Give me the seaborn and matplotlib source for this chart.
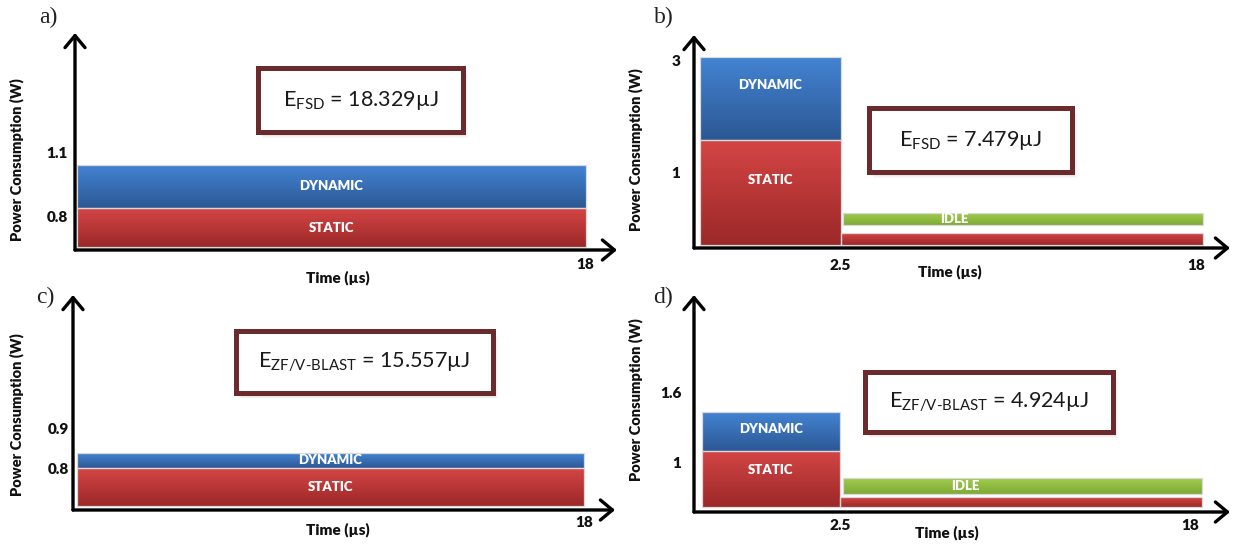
import numpy as np
import matplotlib
matplotlib.use("Agg")
import matplotlib.pyplot as plt
from matplotlib.patches import Rectangle
from matplotlib.colors import LinearSegmentedColormap
import seaborn as sns

sns.set_theme(style="white")
plt.rcParams["font.family"] = ["Lato", "DejaVu Sans"]
plt.rcParams["mathtext.fontset"] = "custom"
plt.rcParams["mathtext.rm"] = "Lato"
plt.rcParams["mathtext.it"] = "Lato:italic"
plt.rcParams["mathtext.bf"] = "Lato:bold"

FIG_W, FIG_H = 1258, 550

# ---- panels ----
panel_tags = ["a)", "b)", "c)", "d)"]
energy_texts = [r"$\mathregular{E_{FSD}}$ = 18.329µJ",
                r"$\mathregular{E_{FSD}}$ = 7.479µJ",
                r"$\mathregular{E_{ZF/V\text{-}BLAST}}$ = 15.557µJ",
                r"$\mathregular{E_{ZF/V\text{-}BLAST}}$ = 4.924µJ"]

# ---- schematic time axis (drawing units) ----
t_start = [2, 6, 4, 8]          # start of the frame
t_active = [511, 147, 511, 146]  # end of the active (detection) phase
t_idle = [np.nan, 149, np.nan, 149]
t_frame = [511, 509, 511, 508]   # end of the 18 us frame

# ---- schematic power levels (drawing units) ----
base_level = [3, 3, 4, 5]
static_level = [42, 108, 42, 61]
dynamic_level = [85, 191, 57, 100]
idle_static_level = [np.nan, 15, np.nan, 15]
idle_low = [np.nan, 23, np.nan, 18]
idle_high = [np.nan, 35, np.nan, 34]

# ---- axis ticks ----
ytick_pos = [[98, 33], [188, 76], [82, 42], [119, 49]]
ytick_labels = [["1.1", "0.8"], ["3", "1"], ["0.9", "0.8"], ["1.6", "1"]]
xtick_pos = [[510], [146, 502], [511], [146, 496]]
xtick_labels = [["18"], ["2.5", "18"], ["18"], ["2.5", "18"]]

# ---- layout (pixels) ----
origins = [(75, 250), (694, 248), (73, 510), (694, 512)]
axis_len = [(542, 217), (536, 213), (542, 215), (536, 217)]
ytick_pad = [5, 10, 3, 9]
xtick_pad = [6, 8, 4, 5]
boxes = [(183, 118, 205, 64), (175, 76, 203, 64), (163, 117, 257, 62), (171, 80, 248, 60)]
time_label_xy = [(263, -28), (256, -24), (265, -20), (253, -21)]
power_label_xy = [(-58, 90), (-58, 98), (-56, 95), (-58, 112)]
tag_xy = [(48, 17), (664, 17), (45, 297), (663, 297)]
dyn_label_frac = [0.5, 0.66, 0.5, 0.56]
static_label_frac = [0.5, 0.62, 0.5, 0.66]
idle_label_frac = [np.nan, 0.31, np.nan, 0.34]

shades = {"STATIC": ("#d44545", "#9c2828"),
          "DYNAMIC": ("#4383d2", "#2c5894"),
          "IDLE": ("#a0cc4e", "#7fa935")}
grad = np.linspace(0, 1, 128).reshape(-1, 1)


def shaded_bar(ax, left, right, bottom, top, kind, label=None, lx=0.5, ly=0.5):
    bars = ax.bar(left, top - bottom, width=right - left, bottom=bottom,
                  align="edge", color=shades[kind][1], linewidth=0, zorder=2)
    patch = bars.patches[0]
    cmap = LinearSegmentedColormap.from_list(kind, [shades[kind][1], shades[kind][0]])
    im = ax.imshow(grad, cmap=cmap, extent=(left, right, bottom, top), origin="lower",
                   aspect="auto", interpolation="bicubic", zorder=2.1)
    im.set_clip_path(patch)
    ax.bar(left, top - bottom, width=right - left, bottom=bottom, align="edge",
           fill=False, edgecolor="#d9d9d9", linewidth=0.9, zorder=2.2)
    if label:
        ax.text(left + lx * (right - left), bottom + ly * (top - bottom), label,
                color="white", fontsize=9.5, fontweight="heavy", ha="center", va="center",
                zorder=3)


fig = plt.figure(figsize=(FIG_W / 100, FIG_H / 100), dpi=100)
fig.patch.set_facecolor("white")

for i in range(4):
    ox, oy = origins[i]
    lx, ly = axis_len[i]
    ax = fig.add_axes([ox / FIG_W, (FIG_H - oy) / FIG_H, lx / FIG_W, ly / FIG_H])
    ax.set_frame_on(False)
    ax.set_facecolor("none")

    # active phase: static + dynamic stacked
    shaded_bar(ax, t_start[i], t_active[i], base_level[i], static_level[i], "STATIC",
               "STATIC", 0.5, static_label_frac[i])
    shaded_bar(ax, t_start[i], t_active[i], static_level[i], dynamic_level[i], "DYNAMIC",
               "DYNAMIC", 0.5, dyn_label_frac[i])
    # idle phase
    if not np.isnan(idle_static_level[i]):
        shaded_bar(ax, t_active[i], t_frame[i], base_level[i], idle_static_level[i], "STATIC")
        shaded_bar(ax, t_idle[i], t_frame[i], idle_low[i], idle_high[i], "IDLE",
                   "IDLE", idle_label_frac[i], 0.5)

    ax.set_xlim(0, lx)
    ax.set_ylim(0, ly)

    # axes drawn as arrows
    arrow = dict(arrowstyle="->,head_length=0.6,head_width=0.5", lw=2.4, color="black",
                 mutation_scale=14.4, shrinkA=0, shrinkB=0)
    ax.annotate("", xy=(0, ly), xytext=(0, 0), arrowprops=arrow, annotation_clip=False, zorder=4)
    ax.annotate("", xy=(lx, 0), xytext=(0, 0), arrowprops=arrow, annotation_clip=False, zorder=4)

    ax.set_yticks(ytick_pos[i])
    ax.set_yticklabels(ytick_labels[i], fontsize=11, fontweight="heavy", color="#111111")
    ax.set_xticks(xtick_pos[i])
    ax.set_xticklabels(xtick_labels[i], fontsize=11, fontweight="heavy", color="#111111")
    ax.tick_params(axis="y", length=0, pad=ytick_pad[i])
    ax.tick_params(axis="x", length=0, pad=xtick_pad[i])
    ax.grid(False)

    tx, ty = time_label_xy[i]
    ax.text(tx, ty, "Time (µs)", fontsize=11, fontweight="heavy", ha="center", va="center",
            color="#111111", clip_on=False)
    px, py = power_label_xy[i]
    ax.text(px, py, "Power Consumption (W)", fontsize=10.5, fontweight="heavy", rotation=90,
            ha="center", va="center", color="#111111", clip_on=False)

    # energy annotation box with soft shadow
    bx, by, bw, bh = boxes[i]
    for k, a in zip(range(1, 7), [0.10, 0.09, 0.08, 0.06, 0.04, 0.03]):
        ax.add_patch(Rectangle((bx + 1 + k * 0.6, by - 1 - k * 0.8), bw, bh, facecolor="#404040",
                               edgecolor="none", alpha=a, zorder=4.5, clip_on=False))
    ax.add_patch(Rectangle((bx, by), bw, bh, facecolor="white", edgecolor="#6b2a2b",
                           linewidth=3.6, zorder=5, clip_on=False))
    ax.text(bx + bw / 2, by + bh / 2, energy_texts[i], fontsize=15.5, ha="center", va="center",
            color="#1a1a1a", zorder=6)

    gx, gy = tag_xy[i]
    fig.text(gx / FIG_W, 1 - gy / FIG_H, panel_tags[i], fontsize=17, ha="center", va="center",
             family=["Liberation Serif", "DejaVu Serif"], color="#222222")

fig.savefig("out.png", dpi=100, facecolor="white")
